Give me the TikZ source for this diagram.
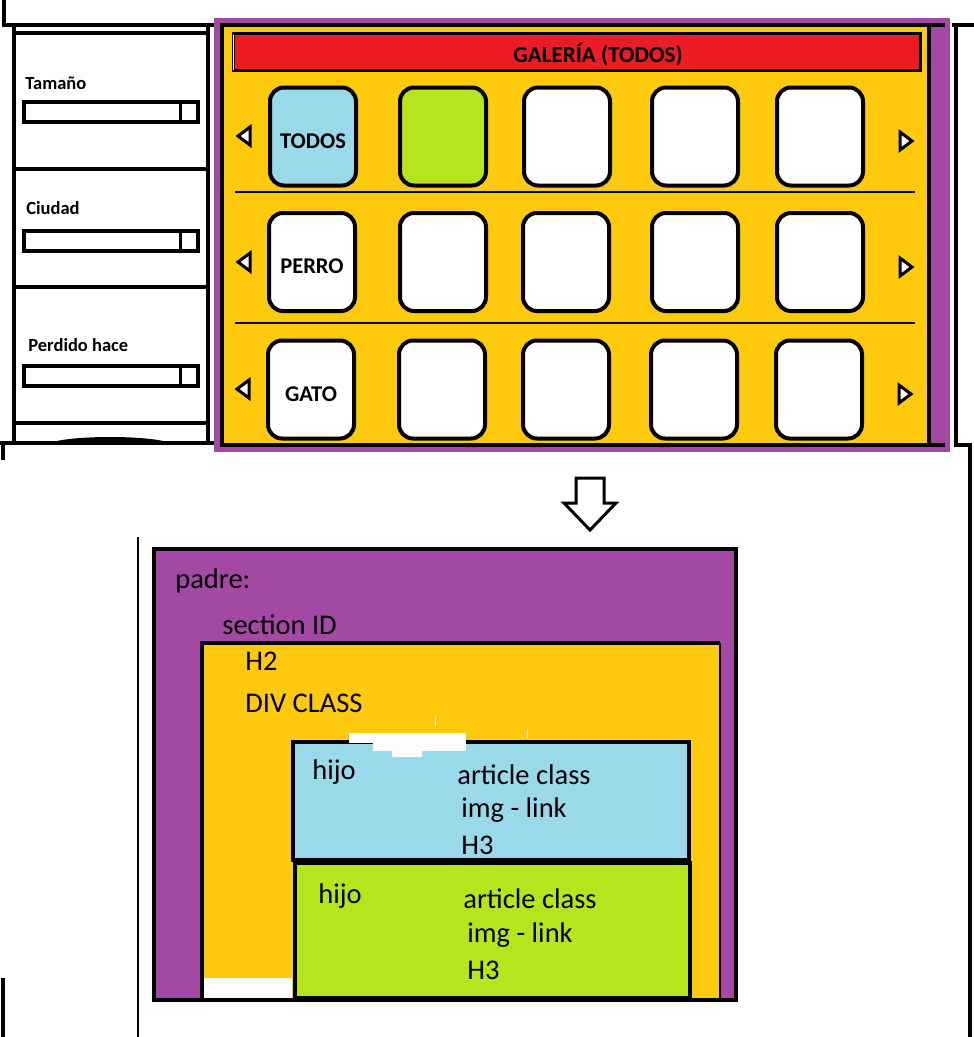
\documentclass[tikz,border=0pt]{standalone}
\usepackage{fontspec}
\setmainfont{Carlito}
\definecolor{mypurple}{RGB}{163, 73, 164}
\definecolor{myyellow}{RGB}{255, 201, 14}
\definecolor{myred}{RGB}{237, 28, 36}
\definecolor{myblue}{RGB}{153, 217, 234}
\definecolor{mygreen}{RGB}{181, 230, 29}
\tikzset{every picture/.style={line width=0.75pt}}
\tikzset{
  tile/.style={draw, line width=4pt, rounded corners=14pt, fill=white, minimum width=86pt, minimum height=98pt, inner sep=0pt, text height=23pt, text depth=0pt, font=\bfseries\fontsize{22.5}{24}\selectfont},
  slider/.style={draw, line width=4pt, fill=white, minimum width=174pt, minimum height=20pt, inner sep=0pt},
  navtri/.style={draw, line width=3pt, fill=white, line join=miter},
  sidelbl/.style={anchor=west, inner sep=0pt, font=\bfseries\fontsize{18.5}{20}\selectfont},
  codelbl/.style={anchor=west, inner sep=0pt, font=\fontsize{28.5}{30}\selectfont},
  frame/.style={line width=4pt}
}

\begin{document}
\begin{tikzpicture}[x=1pt,y=-1pt]
\useasboundingbox (0,0) rectangle (974,1037);

%Shape: outer page lines
\draw [frame] (4,0) -- (4,25) -- (215,25) ;
\draw [frame] (952,25) -- (974,25) ;
\draw [frame] (956,25) -- (956,445) -- (970,445) -- (970,1037) ;
\draw [frame] (0,443) -- (215,443) ;
\draw [frame] (3,443) -- (3,460) ;
\draw [frame] (3,978) -- (3,1037) ;
\draw [line width=2.5pt] (138,537) -- (138,1037) ;

%Shape: filter panel
\draw [frame] (14,25) -- (14,443) ;
\draw [frame] (208,25) -- (208,443) ;
\draw [frame] (14,33) -- (208,33) ;
\draw [frame] (14,169) -- (208,169) ;
\draw [frame] (14,287) -- (208,287) ;
\draw [frame] (14,423) -- (208,423) ;
\fill (50,443) .. controls (70,435) and (150,435) .. (170,443) -- cycle ;

% Text Node
\node [sidelbl] (lblTamano) at (25,83) {Tamaño};
\node [slider] (sldTamano) at (111,112) {};
\draw [line width=3pt] ([xshift=-20pt]sldTamano.north east) -- ([xshift=-20pt]sldTamano.south east) ;
% Text Node
\node [sidelbl] (lblCiudad) at (26,208) {Ciudad};
\node [slider] (sldCiudad) at (111,240.5) {};
\draw [line width=3pt] ([xshift=-20pt]sldCiudad.north east) -- ([xshift=-20pt]sldCiudad.south east) ;
% Text Node
\node [sidelbl] (lblPerdido) at (28,345) {Perdido hace};
\node [slider] (sldPerdido) at (111,376) {};
\draw [line width=3pt] ([xshift=-20pt]sldPerdido.north east) -- ([xshift=-20pt]sldPerdido.south east) ;

%Shape: gallery frame
\fill [mypurple] (214,18) rectangle (950,452) ;
\fill [myyellow] (222,25) rectangle (929,445) ;
\draw [line width=3pt, fill=myred] (233,33) rectangle (920,70) ;
\draw [white, line width=1pt] (233,35) -- (233,70) ;
% Text Node
\node [font=\bfseries\fontsize{23}{25}\selectfont, inner sep=0pt] (title) at (598,55) {GALERÍA (TODOS)};

%Shape: row separators
\draw [line width=1.2pt] (235,192) -- (915,192) ;
\draw [line width=1.2pt] (235,323) -- (915,323) ;

%Shape: tiles
\node [tile, fill=myblue] (todos) at (313,136.5) {TODOS};
\node [tile, fill=mygreen] (t12) at (443,136.5) {};
\node [tile] (t13) at (567,136.5) {};
\node [tile] (t14) at (695,136.5) {};
\node [tile] (t15) at (820,136.5) {};
\node [tile] (perro) at (312,262) {PERRO};
\node [tile] (t22) at (443,262) {};
\node [tile] (t23) at (566,262) {};
\node [tile] (t24) at (695,262) {};
\node [tile] (t25) at (820,262) {};
\node [tile] (gato) at (311,389.5) {GATO};
\node [tile] (t32) at (442,389.5) {};
\node [tile] (t33) at (566,389.5) {};
\node [tile] (t34) at (694,389.5) {};
\node [tile] (t35) at (819,389.5) {};

%Shape: scroll arrows
\draw [navtri] (250,127) -- (238,136) -- (250,145) -- cycle ;
\draw [navtri] (250,253) -- (238,262) -- (250,271) -- cycle ;
\draw [navtri] (249,380) -- (237,389) -- (249,398) -- cycle ;
\draw [navtri] (900,132) -- (912,141) -- (900,150) -- cycle ;
\draw [navtri] (900,258) -- (912,267) -- (900,276) -- cycle ;
\draw [navtri] (899,385) -- (911,394) -- (899,403) -- cycle ;

%Shape: gallery border
\draw [frame] (220,25) -- (945,25) ;
\draw [frame] (220,445) -- (945,445) ;
\draw [frame] (222,25) -- (222,445) ;
\draw [frame] (929,25) -- (929,445) ;

%Shape: down arrow
\draw [line width=3pt, fill=white, line join=miter] (576,478) -- (604,478) -- (604,503) -- (616,503) -- (590,530) -- (564,503) -- (576,503) -- cycle ;

%Shape: padre box
\draw [frame, fill=mypurple] (154,549) rectangle (736,1000) ;
% Text Node
\node [codelbl] (padre) at (175,581) {padre:};
% Text Node
\node [codelbl] (section) at (222,625) {section ID};

%Shape: section box
\fill [myyellow] (202,643) rectangle (720,998) ;
\draw [frame] (202,998) -- (202,643) -- (720,643) ;
\draw [line width=1.5pt] (720,643) -- (720,998) ;
\fill [white] (204,978) rectangle (292,998) ;
% Text Node
\node [codelbl] (htwo) at (245,661) {H2};
% Text Node
\node [codelbl] (divclass) at (245,703) {DIV CLASS};

%Shape: first article
\draw [frame, fill=myblue] (293,742) rectangle (689,860) ;
\fill [white] (349,733) rectangle (466,743) ;
\fill [white] (373,743) rectangle (466,751) ;
\fill [white] (392,751) rectangle (422,757) ;
\draw [white, line width=1pt] (435,716) -- (435,726) ;
\draw [white, line width=1pt] (527,729) -- (527,738) ;
% Text Node
\node [codelbl] (hijoA) at (312,772) {hijo};
\node [codelbl] (classA) at (457,775) {article class};
\node [codelbl] (linkA) at (461,810) {img - link};
\node [codelbl] (hthreeA) at (461,845) {H3};

%Shape: second article
\draw [frame, fill=mygreen] (295,863) rectangle (690,998) ;
% Text Node
\node [codelbl] (hijoB) at (318,896) {hijo};
\node [codelbl] (classB) at (463,899) {article class};
\node [codelbl] (linkB) at (467,935) {img - link};
\node [codelbl] (hthreeB) at (467,970) {H3};

\end{tikzpicture}
\end{document}
